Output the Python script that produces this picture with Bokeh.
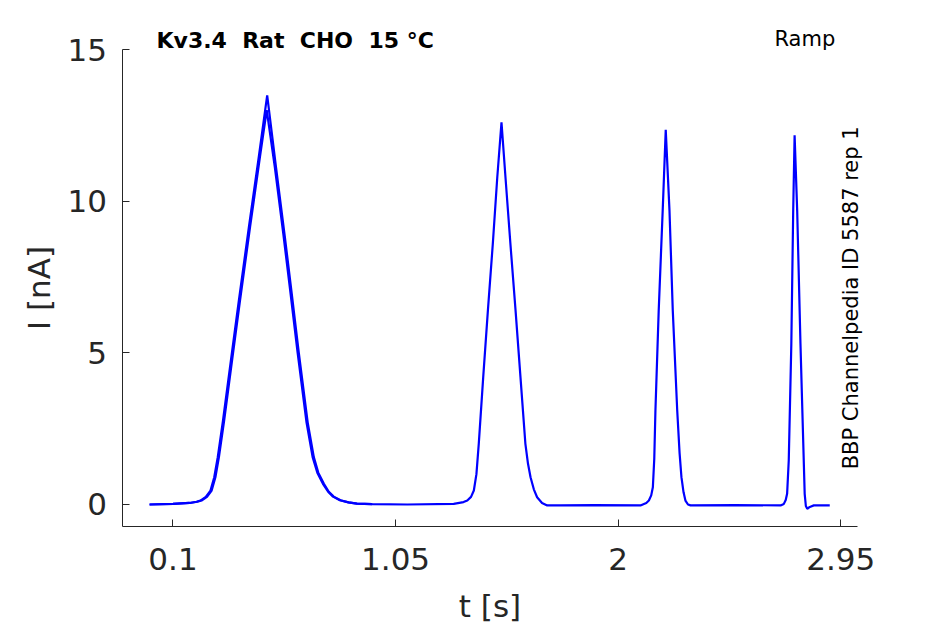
from bokeh.plotting import figure
from bokeh.models import Range1d, FixedTicker, Label
from bokeh.embed import file_html
from bokeh.resources import INLINE

# ---- data ----
x_ticks = [0.1, 1.05, 2, 2.95]
x_tick_labels = ["0.1", "1.05", "2", "2.95"]
y_ticks = [0, 5, 10, 15]
y_tick_labels = ["0", "5", "10", "15"]
x_limits = (-0.114, 3.020)
y_limits = (-0.725, 15)

# trace 1 (full ramp protocol, time in s, current in nA)
t_trace1 = [0.000, 0.100, 0.170, 0.200, 0.217, 0.240, 0.260, 0.276, 0.291, 0.313,
            0.348, 0.381, 0.424, 0.466, 0.502, 0.540, 0.577, 0.606, 0.637, 0.675,
            0.701, 0.720, 0.744, 0.765, 0.786, 0.815, 0.850, 0.886, 0.950, 1.100,
            1.298, 1.340, 1.356, 1.372, 1.384, 1.395, 1.405, 1.424, 1.444, 1.465,
            1.484, 1.502, 1.519, 1.540, 1.562, 1.583, 1.604, 1.615, 1.626, 1.640,
            1.654, 1.675, 1.697, 1.754, 1.900, 2.095, 2.120, 2.131, 2.141, 2.148,
            2.154, 2.159, 2.173, 2.190, 2.203, 2.219, 2.233, 2.252, 2.262, 2.270,
            2.279, 2.287, 2.298, 2.309, 2.500, 2.693, 2.707, 2.715, 2.721, 2.728,
            2.739, 2.747, 2.753, 2.764, 2.778, 2.790, 2.796, 2.801, 2.807, 2.818,
            2.835, 2.903]
i_trace1 = [0.00, 0.02, 0.05, 0.09, 0.13, 0.25, 0.46, 0.90, 1.56, 2.75,
            4.80, 6.72, 9.15, 11.45, 13.49, 11.10, 8.85, 7.00, 5.00, 2.70,
            1.56, 1.05, 0.68, 0.42, 0.26, 0.14, 0.07, 0.03, 0.01, 0.00,
            0.02, 0.08, 0.13, 0.25, 0.46, 1.00, 2.00, 4.20, 6.40, 8.60,
            10.79, 12.60, 10.79, 8.60, 6.40, 4.20, 2.00, 1.35, 0.90, 0.50,
            0.24, 0.05, -0.03, -0.03, -0.02, -0.03, 0.05, 0.13, 0.30, 0.57,
            1.50, 3.10, 6.40, 9.69, 12.35, 9.69, 6.40, 3.10, 1.70, 0.90,
            0.40, 0.13, 0.00, -0.03, -0.02, -0.03, 0.02, 0.15, 0.35, 1.45,
            5.30, 9.69, 12.17, 9.69, 5.30, 2.00, 0.35, -0.05, -0.14, -0.08,
            -0.03, -0.03]

# trace 2 (second sweep, visible on the first ramp)
t_trace2 = [0.000, 0.100, 0.172, 0.204, 0.222, 0.245, 0.265, 0.281, 0.296, 0.318,
            0.353, 0.386, 0.429, 0.471, 0.500, 0.535, 0.572, 0.601, 0.632, 0.670,
            0.696, 0.716, 0.740, 0.762, 0.783, 0.812, 0.848, 0.884, 0.950]
i_trace2 = [0.00, 0.02, 0.05, 0.09, 0.13, 0.25, 0.46, 0.90, 1.56, 2.75,
            4.80, 6.72, 9.15, 11.45, 13.00, 11.10, 8.85, 7.00, 5.00, 2.70,
            1.56, 1.05, 0.68, 0.42, 0.26, 0.14, 0.07, 0.03, 0.01]

title_text = "Kv3.4 \u00a0Rat \u00a0CHO \u00a015 °C"
protocol_text = "Ramp"
source_text = "BBP Channelpedia ID 5587 rep 1"
x_label = "t [s]"
y_label = "I [nA]"

# ---- figure: the frame covers the whole canvas, axes sit at fixed locations ----
FONT = "DejaVu Sans"
AX = "#262626"

p = figure(width=945, height=624,
           x_range=Range1d(-0.6362, 3.397), y_range=Range1d(-3.957, 16.617),
           output_backend="svg", toolbar_location=None,
           min_border=0, min_border_left=0, min_border_right=0,
           min_border_top=0, min_border_bottom=0)
p.outline_line_color = None
p.xgrid.visible = False
p.ygrid.visible = False
p.background_fill_color = "white"
p.border_fill_color = "white"

p.line(t_trace2, i_trace2, line_color="#0000ff", line_width=2.2)
p.line(t_trace1, i_trace1, line_color="#0000ff", line_width=2.2)

for ax in (p.xaxis[0], p.yaxis[0]):
    ax.axis_line_color = AX
    ax.axis_line_width = 1
    ax.major_tick_line_color = AX
    ax.major_tick_in = 7
    ax.major_tick_out = 0
    ax.minor_tick_line_color = None
    ax.major_label_text_font = FONT
    ax.major_label_text_font_size = "31px"
    ax.major_label_text_color = AX

p.xaxis.ticker = FixedTicker(ticks=x_ticks)
p.xaxis.major_label_overrides = {float(k): v for k, v in zip(x_ticks, x_tick_labels)}
p.xaxis.major_label_standoff = 22
p.xaxis.bounds = x_limits
p.xaxis.fixed_location = y_limits[0]

p.yaxis.ticker = FixedTicker(ticks=y_ticks)
p.yaxis.major_label_overrides = {float(k): v for k, v in zip(y_ticks, y_tick_labels)}
p.yaxis.major_label_standoff = 16
p.yaxis.bounds = y_limits
p.yaxis.fixed_location = x_limits[0]

# axis labels
p.add_layout(Label(x=1.453, y=-3.347, text=x_label, text_font=FONT,
                   text_font_size="31px", text_color=AX,
                   text_align="center", text_baseline="alphabetic"))
p.add_layout(Label(x=-0.4728, y=7.138, text=y_label, text_font=FONT,
                   text_font_size="31px", text_color=AX, angle=1.5707963,
                   text_align="center", text_baseline="alphabetic"))

# annotations
p.add_layout(Label(x=0.0296, y=15.308, text=title_text, text_font=FONT,
                   text_font_size="22px", text_font_style="bold",
                   text_color="black", text_align="left",
                   text_baseline="alphabetic"))
p.add_layout(Label(x=2.667, y=15.364, text=protocol_text, text_font=FONT,
                   text_font_size="21px", text_color="black",
                   text_align="left", text_baseline="alphabetic"))
p.add_layout(Label(x=2.993, y=1.16, text=source_text, text_font=FONT,
                   text_font_size="21px", text_color="black", angle=1.5707963,
                   text_align="left", text_baseline="alphabetic"))

open("out.html", "w").write(file_html(p, INLINE))
